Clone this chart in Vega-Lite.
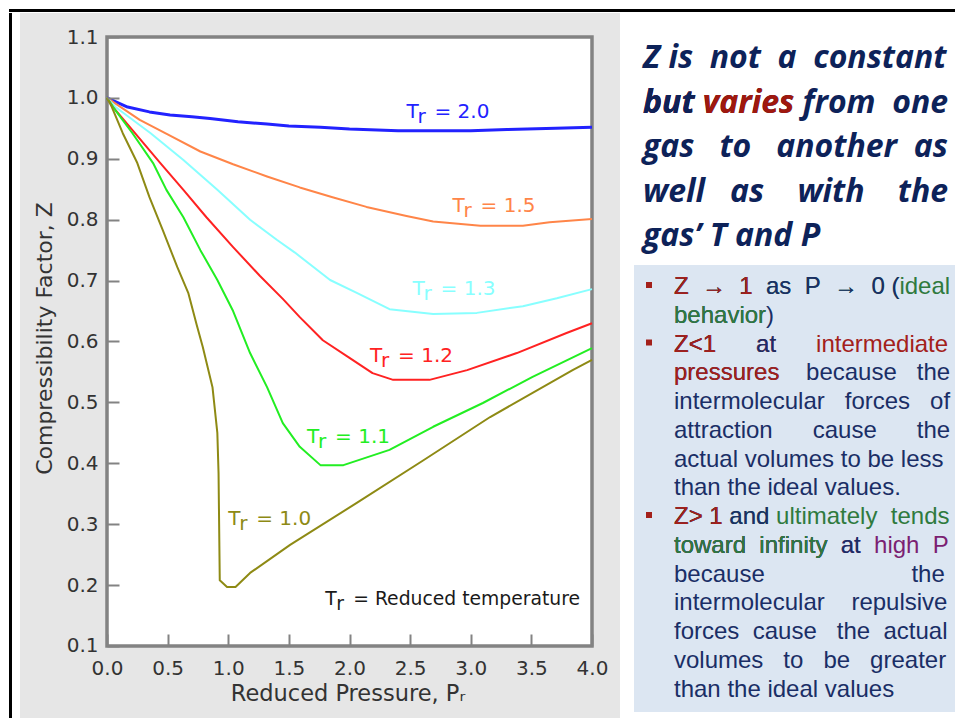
{
  "$schema": "https://vega.github.io/schema/vega-lite/v6.json",
  "background": "white",
  "padding": {"left": 9, "top": 9, "right": 0, "bottom": 0},
  "config": {
    "view": {"stroke": null},
    "font": "DejaVu Sans"
  },
  "datasets": {
    "curves": [
      {"Tr": "2.0", "P": 0, "Z": 1.0}, {"Tr": "2.0", "P": 0.17, "Z": 0.985}, {"Tr": "2.0", "P": 0.35, "Z": 0.977}, {"Tr": "2.0", "P": 0.52, "Z": 0.972}, {"Tr": "2.0", "P": 0.7, "Z": 0.969}, {"Tr": "2.0", "P": 0.85, "Z": 0.966}, {"Tr": "2.0", "P": 1.08, "Z": 0.961}, {"Tr": "2.0", "P": 1.32, "Z": 0.957}, {"Tr": "2.0", "P": 1.5, "Z": 0.954}, {"Tr": "2.0", "P": 1.76, "Z": 0.952}, {"Tr": "2.0", "P": 2.0, "Z": 0.949}, {"Tr": "2.0", "P": 2.4, "Z": 0.946}, {"Tr": "2.0", "P": 3.0, "Z": 0.946}, {"Tr": "2.0", "P": 3.3, "Z": 0.948}, {"Tr": "2.0", "P": 3.7, "Z": 0.95}, {"Tr": "2.0", "P": 4.0, "Z": 0.952},
      {"Tr": "1.5", "P": 0, "Z": 1.0}, {"Tr": "1.5", "P": 0.27, "Z": 0.964}, {"Tr": "1.5", "P": 0.5, "Z": 0.94}, {"Tr": "1.5", "P": 0.77, "Z": 0.912}, {"Tr": "1.5", "P": 1.04, "Z": 0.891}, {"Tr": "1.5", "P": 1.32, "Z": 0.871}, {"Tr": "1.5", "P": 1.59, "Z": 0.853}, {"Tr": "1.5", "P": 1.86, "Z": 0.837}, {"Tr": "1.5", "P": 2.14, "Z": 0.821}, {"Tr": "1.5", "P": 2.47, "Z": 0.806}, {"Tr": "1.5", "P": 2.69, "Z": 0.797}, {"Tr": "1.5", "P": 2.85, "Z": 0.794}, {"Tr": "1.5", "P": 3.08, "Z": 0.79}, {"Tr": "1.5", "P": 3.43, "Z": 0.79}, {"Tr": "1.5", "P": 3.65, "Z": 0.796}, {"Tr": "1.5", "P": 4.0, "Z": 0.801},
      {"Tr": "1.3", "P": 0, "Z": 1.0}, {"Tr": "1.3", "P": 0.07, "Z": 0.985}, {"Tr": "1.3", "P": 0.36, "Z": 0.942}, {"Tr": "1.3", "P": 0.63, "Z": 0.898}, {"Tr": "1.3", "P": 0.91, "Z": 0.849}, {"Tr": "1.3", "P": 1.18, "Z": 0.8}, {"Tr": "1.3", "P": 1.4, "Z": 0.767}, {"Tr": "1.3", "P": 1.55, "Z": 0.746}, {"Tr": "1.3", "P": 1.84, "Z": 0.701}, {"Tr": "1.3", "P": 2.06, "Z": 0.68}, {"Tr": "1.3", "P": 2.33, "Z": 0.653}, {"Tr": "1.3", "P": 2.69, "Z": 0.645}, {"Tr": "1.3", "P": 3.05, "Z": 0.647}, {"Tr": "1.3", "P": 3.43, "Z": 0.658}, {"Tr": "1.3", "P": 3.71, "Z": 0.671}, {"Tr": "1.3", "P": 4.0, "Z": 0.686},
      {"Tr": "1.2", "P": 0, "Z": 1.0}, {"Tr": "1.2", "P": 0.05, "Z": 0.985}, {"Tr": "1.2", "P": 0.21, "Z": 0.947}, {"Tr": "1.2", "P": 0.44, "Z": 0.893}, {"Tr": "1.2", "P": 0.63, "Z": 0.849}, {"Tr": "1.2", "P": 0.82, "Z": 0.804}, {"Tr": "1.2", "P": 1.04, "Z": 0.755}, {"Tr": "1.2", "P": 1.26, "Z": 0.708}, {"Tr": "1.2", "P": 1.45, "Z": 0.67}, {"Tr": "1.2", "P": 1.59, "Z": 0.64}, {"Tr": "1.2", "P": 1.78, "Z": 0.602}, {"Tr": "1.2", "P": 2.0, "Z": 0.573}, {"Tr": "1.2", "P": 2.19, "Z": 0.548}, {"Tr": "1.2", "P": 2.36, "Z": 0.537}, {"Tr": "1.2", "P": 2.66, "Z": 0.537}, {"Tr": "1.2", "P": 2.97, "Z": 0.553}, {"Tr": "1.2", "P": 3.38, "Z": 0.581}, {"Tr": "1.2", "P": 3.79, "Z": 0.614}, {"Tr": "1.2", "P": 4.0, "Z": 0.63},
      {"Tr": "1.1", "P": 0, "Z": 1.0}, {"Tr": "1.1", "P": 0.05, "Z": 0.985}, {"Tr": "1.1", "P": 0.21, "Z": 0.942}, {"Tr": "1.1", "P": 0.38, "Z": 0.893}, {"Tr": "1.1", "P": 0.49, "Z": 0.849}, {"Tr": "1.1", "P": 0.63, "Z": 0.804}, {"Tr": "1.1", "P": 0.77, "Z": 0.75}, {"Tr": "1.1", "P": 0.91, "Z": 0.701}, {"Tr": "1.1", "P": 1.04, "Z": 0.65}, {"Tr": "1.1", "P": 1.18, "Z": 0.581}, {"Tr": "1.1", "P": 1.32, "Z": 0.525}, {"Tr": "1.1", "P": 1.45, "Z": 0.466}, {"Tr": "1.1", "P": 1.59, "Z": 0.427}, {"Tr": "1.1", "P": 1.76, "Z": 0.397}, {"Tr": "1.1", "P": 1.95, "Z": 0.397}, {"Tr": "1.1", "P": 2.33, "Z": 0.422}, {"Tr": "1.1", "P": 2.69, "Z": 0.46}, {"Tr": "1.1", "P": 3.1, "Z": 0.499}, {"Tr": "1.1", "P": 3.51, "Z": 0.542}, {"Tr": "1.1", "P": 4.0, "Z": 0.589},
      {"Tr": "1.0", "P": 0, "Z": 1.0}, {"Tr": "1.0", "P": 0.04, "Z": 0.985}, {"Tr": "1.0", "P": 0.13, "Z": 0.942}, {"Tr": "1.0", "P": 0.25, "Z": 0.893}, {"Tr": "1.0", "P": 0.35, "Z": 0.837}, {"Tr": "1.0", "P": 0.46, "Z": 0.783}, {"Tr": "1.0", "P": 0.58, "Z": 0.722}, {"Tr": "1.0", "P": 0.67, "Z": 0.68}, {"Tr": "1.0", "P": 0.74, "Z": 0.627}, {"Tr": "1.0", "P": 0.79, "Z": 0.591}, {"Tr": "1.0", "P": 0.87, "Z": 0.525}, {"Tr": "1.0", "P": 0.91, "Z": 0.45}, {"Tr": "1.0", "P": 0.92, "Z": 0.384}, {"Tr": "1.0", "P": 0.93, "Z": 0.208}, {"Tr": "1.0", "P": 0.99, "Z": 0.197}, {"Tr": "1.0", "P": 1.06, "Z": 0.197}, {"Tr": "1.0", "P": 1.18, "Z": 0.22}, {"Tr": "1.0", "P": 1.51, "Z": 0.266}, {"Tr": "1.0", "P": 2.06, "Z": 0.335}, {"Tr": "1.0", "P": 2.61, "Z": 0.405}, {"Tr": "1.0", "P": 3.16, "Z": 0.476}, {"Tr": "1.0", "P": 3.84, "Z": 0.553}, {"Tr": "1.0", "P": 4.0, "Z": 0.57}
    ],
    "labels": [
      {"Tr": "2.0", "P": 2.47, "Z": 0.967, "rest": "= 2.0"},
      {"Tr": "1.5", "P": 2.85, "Z": 0.813, "rest": "= 1.5"},
      {"Tr": "1.3", "P": 2.52, "Z": 0.676, "rest": "= 1.3"},
      {"Tr": "1.2", "P": 2.17, "Z": 0.567, "rest": "= 1.2"},
      {"Tr": "1.1", "P": 1.65, "Z": 0.433, "rest": "= 1.1"},
      {"Tr": "1.0", "P": 1.0, "Z": 0.299, "rest": "= 1.0"},
      {"Tr": "note", "P": 1.8, "Z": 0.167, "rest": "= Reduced temperature"}
    ],
    "heading": [
      {"line": 1, "tone": "plain", "txt": "Z is\u00a0\u00a0not\u00a0\u00a0a\u00a0\u00a0constant"},
      {"line": 2, "tone": "plain", "txt": "but varies from\u00a0\u00a0one"},
      {"line": 2, "tone": "emph", "txt": "but varies"},
      {"line": 2, "tone": "plain", "txt": "but"},
      {"line": 3, "tone": "plain", "txt": "gas\u00a0\u00a0\u00a0to\u00a0\u00a0\u00a0another\u00a0\u00a0as"},
      {"line": 4, "tone": "plain", "txt": "well\u00a0\u00a0\u00a0as\u00a0\u00a0\u00a0\u00a0with\u00a0\u00a0\u00a0\u00a0the"},
      {"line": 5, "tone": "plain", "txt": "gas’ T and P"}
    ],
    "bullets": [{"line": 1}, {"line": 3}, {"line": 9}],
    "body": [
      {"line": 1, "tone": "green", "txt": "Z\u00a0\u00a0→\u00a0\u00a01\u00a0\u00a0as\u00a0\u00a0P\u00a0\u00a0→\u00a0\u00a00 (ideal"},
      {"line": 1, "tone": "navy", "txt": "Z\u00a0\u00a0→\u00a0\u00a01\u00a0\u00a0as\u00a0\u00a0P\u00a0\u00a0→\u00a0\u00a00 ("},
      {"line": 1, "tone": "red", "txt": "Z\u00a0\u00a0→\u00a0\u00a01"},
      {"line": 2, "tone": "navy", "txt": "behavior)"},
      {"line": 2, "tone": "green", "txt": "behavior"},
      {"line": 3, "tone": "red", "txt": "Z<1\u00a0\u00a0\u00a0\u00a0\u00a0\u00a0at\u00a0\u00a0\u00a0\u00a0\u00a0\u00a0intermediate"},
      {"line": 3, "tone": "navy", "txt": "Z<1\u00a0\u00a0\u00a0\u00a0\u00a0\u00a0at"},
      {"line": 3, "tone": "red", "txt": "Z<1"},
      {"line": 4, "tone": "navy", "txt": "pressures\u00a0\u00a0\u00a0\u00a0because\u00a0\u00a0\u00a0the"},
      {"line": 4, "tone": "red", "txt": "pressures"},
      {"line": 5, "tone": "navy", "txt": "intermolecular\u00a0\u00a0\u00a0forces\u00a0\u00a0\u00a0of"},
      {"line": 6, "tone": "navy", "txt": "attraction\u00a0\u00a0\u00a0\u00a0\u00a0\u00a0cause\u00a0\u00a0\u00a0\u00a0\u00a0\u00a0the"},
      {"line": 7, "tone": "navy", "txt": "actual volumes to be less"},
      {"line": 8, "tone": "navy", "txt": "than the ideal values."},
      {"line": 9, "tone": "green", "txt": "Z> 1 and ultimately\u00a0\u00a0tends"},
      {"line": 9, "tone": "navy", "txt": "Z> 1 and"},
      {"line": 9, "tone": "red", "txt": "Z> 1"},
      {"line": 10, "tone": "purple", "txt": "toward\u00a0\u00a0infinity\u00a0\u00a0at\u00a0\u00a0high\u00a0\u00a0P"},
      {"line": 10, "tone": "navy", "txt": "toward\u00a0\u00a0infinity\u00a0\u00a0at"},
      {"line": 10, "tone": "green", "txt": "toward\u00a0\u00a0infinity"},
      {"line": 11, "tone": "navy", "txt": "because\u00a0\u00a0\u00a0\u00a0\u00a0\u00a0\u00a0\u00a0\u00a0\u00a0\u00a0\u00a0\u00a0\u00a0\u00a0\u00a0\u00a0\u00a0\u00a0\u00a0\u00a0\u00a0the"},
      {"line": 12, "tone": "navy", "txt": "intermolecular\u00a0\u00a0\u00a0\u00a0repulsive"},
      {"line": 13, "tone": "navy", "txt": "forces\u00a0\u00a0cause\u00a0\u00a0\u00a0the\u00a0\u00a0actual"},
      {"line": 14, "tone": "navy", "txt": "volumes\u00a0\u00a0\u00a0to\u00a0\u00a0\u00a0be\u00a0\u00a0\u00a0greater"},
      {"line": 15, "tone": "navy", "txt": "than the ideal values"}
    ]
  },
  "spacing": 1,
  "bounds": "flush",
  "resolve": {"scale": {"color": "independent", "size": "independent", "strokeWidth": "independent"}},
  "vconcat": [
    {
      "width": 946,
      "height": 3,
      "view": {"fill": "#000000", "stroke": null},
      "data": {"values": []},
      "mark": "point",
      "encoding": {}
    },
    {
      "spacing": 0,
      "bounds": "flush",
      "resolve": {"scale": {"color": "independent", "size": "independent", "strokeWidth": "independent"}},
      "hconcat": [
        {
          "width": 3,
          "height": 705,
          "view": {"fill": "#000000", "stroke": null},
          "data": {"values": []},
          "mark": "point",
          "encoding": {}
        },
        {
          "width": 8,
          "height": 705,
          "data": {"values": []},
          "mark": "point",
          "encoding": {}
        },
        {
          "width": 600,
          "height": 705,
          "view": {"fill": "#e6e6e6", "stroke": null},
          "layer": [
            {
              "data": {"values": [{}]},
              "mark": {"type": "rect", "fill": "#ffffff", "stroke": "#838383", "strokeWidth": 3.5},
              "encoding": {
                "x": {"datum": 0, "type": "quantitative", "scale": {"domain": [-0.71753, 4.23093], "nice": false, "zero": false}},
                "x2": {"datum": 4},
                "y": {"datum": 0.1, "type": "quantitative", "scale": {"domain": [-0.01823, 1.13941], "nice": false, "zero": false}},
                "y2": {"datum": 1.1}
              }
            },
            {
              "data": {"name": "curves"},
              "mark": {"type": "line", "strokeCap": "butt", "strokeJoin": "round"},
              "encoding": {
                "x": {
                  "field": "P", "type": "quantitative",
                  "scale": {"domain": [-0.71753, 4.23093], "nice": false, "zero": false},
                  "axis": {
                    "values": [0, 0.5, 1, 1.5, 2, 2.5, 3, 3.5, 4], "format": ".1f",
                    "offset": -72, "domain": false, "grid": false, "zindex": 2,
                    "tickSize": -12, "tickWidth": 2, "tickColor": "#838383",
                    "labelPadding": 24, "labelFont": "DejaVu Sans", "labelFontSize": 20, "labelColor": "#333333",
                    "labelFlush": false, "labelOverlap": false, "labelBound": false,
                    "title": "Reduced Pressure, Pᵣ", "titleX": 327.5, "titlePadding": 4,
                    "titleFont": "DejaVu Sans", "titleFontSize": 22.5, "titleFontWeight": "normal", "titleColor": "#333333"
                  }
                },
                "y": {
                  "field": "Z", "type": "quantitative",
                  "scale": {"domain": [-0.01823, 1.13941], "nice": false, "zero": false},
                  "axis": {
                    "values": [0.1, 0.2, 0.3, 0.4, 0.5, 0.6, 0.7, 0.8, 0.9, 1.0, 1.1], "format": ".1f",
                    "offset": -87, "domain": false, "grid": false, "zindex": 2,
                    "tickSize": -12, "tickWidth": 2, "tickColor": "#838383",
                    "labelPadding": 21, "labelFont": "DejaVu Sans", "labelFontSize": 20, "labelColor": "#333333",
                    "labelFlush": false, "labelOverlap": false, "labelBound": false,
                    "title": "Compressibility Factor, Z", "titleY": 325, "titlePadding": 10,
                    "titleFont": "DejaVu Sans", "titleFontSize": 22, "titleFontWeight": "normal", "titleColor": "#333333"
                  }
                },
                "color": {
                  "field": "Tr", "type": "nominal",
                  "scale": {"domain": ["2.0", "1.5", "1.3", "1.2", "1.1", "1.0", "note"], "range": ["#2222ff", "#ff8548", "#88ffff", "#ff2222", "#22ee22", "#8e8a14", "#1a1a1a"]},
                  "legend": null
                },
                "strokeWidth": {
                  "field": "Tr", "type": "nominal",
                  "scale": {"type": "ordinal", "domain": ["2.0", "1.5", "1.3", "1.2", "1.1", "1.0"], "range": [3, 2, 2, 2, 2, 2]},
                  "legend": null
                }
              }
            },
            {
              "data": {"name": "labels"},
              "mark": {"type": "text", "text": "T", "align": "left", "baseline": "alphabetic", "font": "DejaVu Sans"},
              "encoding": {
                "x": {"field": "P", "type": "quantitative", "scale": {"domain": [-0.71753, 4.23093], "nice": false, "zero": false}},
                "y": {"field": "Z", "type": "quantitative", "scale": {"domain": [-0.01823, 1.13941], "nice": false, "zero": false}},
                "color": {"field": "Tr", "type": "nominal", "scale": {"domain": ["2.0", "1.5", "1.3", "1.2", "1.1", "1.0", "note"], "range": ["#2222ff", "#ff8548", "#88ffff", "#ff2222", "#22ee22", "#8e8a14", "#1a1a1a"]}, "legend": null},
                "size": {"field": "Tr", "type": "nominal", "scale": {"type": "ordinal", "domain": ["2.0", "1.5", "1.3", "1.2", "1.1", "1.0", "note"], "range": [20, 20, 20, 20, 20, 20, 18.75]}, "legend": null}
              }
            },
            {
              "data": {"name": "labels"},
              "mark": {"type": "text", "text": "r", "align": "left", "baseline": "alphabetic", "font": "DejaVu Sans", "dx": 11, "dy": 5},
              "encoding": {
                "x": {"field": "P", "type": "quantitative", "scale": {"domain": [-0.71753, 4.23093], "nice": false, "zero": false}},
                "y": {"field": "Z", "type": "quantitative", "scale": {"domain": [-0.01823, 1.13941], "nice": false, "zero": false}},
                "color": {"field": "Tr", "type": "nominal", "scale": {"domain": ["2.0", "1.5", "1.3", "1.2", "1.1", "1.0", "note"], "range": ["#2222ff", "#ff8548", "#88ffff", "#ff2222", "#22ee22", "#8e8a14", "#1a1a1a"]}, "legend": null},
                "size": {"field": "Tr", "type": "nominal", "scale": {"type": "ordinal", "domain": ["2.0", "1.5", "1.3", "1.2", "1.1", "1.0", "note"], "range": [20, 20, 20, 20, 20, 20, 18.75]}, "legend": null}
              }
            },
            {
              "data": {"name": "labels"},
              "mark": {"type": "text", "align": "left", "baseline": "alphabetic", "font": "DejaVu Sans", "dx": 28},
              "encoding": {
                "x": {"field": "P", "type": "quantitative", "scale": {"domain": [-0.71753, 4.23093], "nice": false, "zero": false}},
                "y": {"field": "Z", "type": "quantitative", "scale": {"domain": [-0.01823, 1.13941], "nice": false, "zero": false}},
                "text": {"field": "rest"},
                "color": {"field": "Tr", "type": "nominal", "scale": {"domain": ["2.0", "1.5", "1.3", "1.2", "1.1", "1.0", "note"], "range": ["#2222ff", "#ff8548", "#88ffff", "#ff2222", "#22ee22", "#8e8a14", "#1a1a1a"]}, "legend": null},
                "size": {"field": "Tr", "type": "nominal", "scale": {"type": "ordinal", "domain": ["2.0", "1.5", "1.3", "1.2", "1.1", "1.0", "note"], "range": [20, 20, 20, 20, 20, 20, 18.75]}, "legend": null}
              }
            }
          ]
        },
        {
          "width": 14,
          "height": 705,
          "data": {"values": []},
          "mark": "point",
          "encoding": {}
        },
        {
          "spacing": 0,
          "bounds": "flush",
          "resolve": {"scale": {"color": "independent"}},
          "vconcat": [
            {
              "width": 321,
              "height": 252,
              "data": {"name": "heading"},
              "mark": {"type": "text", "align": "left", "baseline": "alphabetic", "font": "Open Sans", "fontSize": 32, "fontStyle": "italic", "fontWeight": "bold"},
              "encoding": {
                "x": {"value": 9},
                "y": {"field": "line", "type": "quantitative", "scale": {"domain": [-0.247, 5.416], "reverse": true, "nice": false, "zero": false}, "axis": null},
                "text": {"field": "txt"},
                "color": {"field": "tone", "type": "nominal", "scale": {"domain": ["plain", "emph"], "range": ["#0d2259", "#a0180e"]}, "legend": null}
              }
            },
            {
              "width": 321,
              "height": 447,
              "view": {"fill": "#dce6f2", "stroke": null},
              "layer": [
                {
                  "data": {"name": "bullets"},
                  "mark": {"type": "square", "size": 36, "filled": true, "opacity": 1, "color": "#a3201a", "yOffset": -9},
                  "encoding": {
                    "x": {"value": 15},
                    "y": {"field": "line", "type": "quantitative", "scale": {"domain": [-0.009, 15.539], "reverse": true, "nice": false, "zero": false}, "axis": null}
                  }
                },
                {
                  "data": {"name": "body"},
                  "mark": {"type": "text", "align": "left", "baseline": "alphabetic", "font": "Liberation Sans", "fontSize": 24},
                  "encoding": {
                    "x": {"value": 40},
                    "y": {"field": "line", "type": "quantitative", "scale": {"domain": [-0.009, 15.539], "reverse": true, "nice": false, "zero": false}, "axis": null},
                    "text": {"field": "txt"},
                    "color": {"field": "tone", "type": "nominal", "scale": {"domain": ["navy", "red", "green", "purple"], "range": ["#1a2e66", "#a3201a", "#2f7a3e", "#7b1f72"]}, "legend": null}
                  }
                }
              ]
            }
          ]
        }
      ]
    }
  ]
}
